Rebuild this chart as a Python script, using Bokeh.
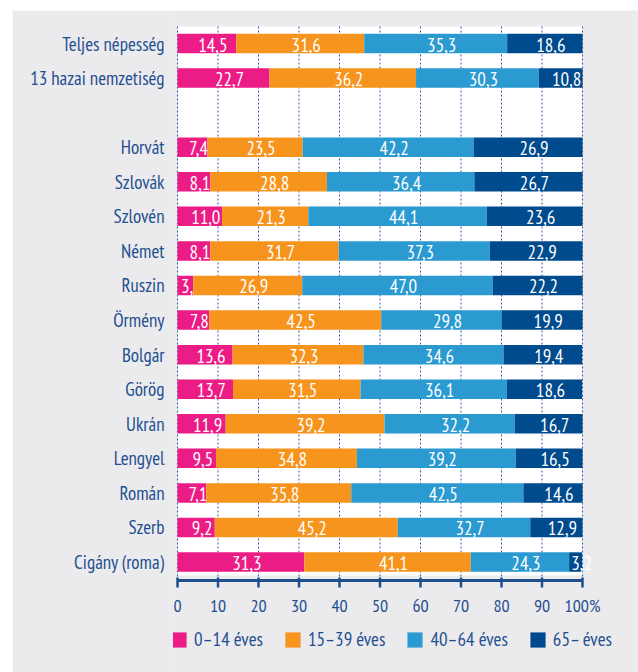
from bokeh.plotting import figure
from bokeh.models import Range1d, FixedTicker, ColumnDataSource, Legend, LegendItem
from bokeh.core.properties import value
from bokeh.embed import file_html
from bokeh.resources import INLINE

# ---------------- data ----------------
summary_rows = ["Teljes népesség", "13 hazai nemzetiség"]
nationalities = ["Horvát", "Szlovák", "Szlovén", "Német", "Ruszin", "Örmény", "Bolgár",
                 "Görög", "Ukrán", "Lengyel", "Román", "Szerb", "Cigány (roma)"]
age_groups = ["0–14 éves", "15–39 éves", "40–64 éves", "65– éves"]

summary_0_14 = [14.5, 22.7]
summary_15_39 = [31.6, 36.2]
summary_40_64 = [35.3, 30.3]
summary_65 = [18.6, 10.8]

nat_0_14 = [7.4, 8.1, 11.0, 8.1, 3.9, 7.8, 13.6, 13.7, 11.9, 9.5, 7.1, 9.2, 31.3]
nat_15_39 = [23.5, 28.8, 21.3, 31.7, 26.9, 42.5, 32.3, 31.5, 39.2, 34.8, 35.8, 45.2, 41.1]
nat_40_64 = [42.2, 36.4, 44.1, 37.3, 47.0, 29.8, 34.6, 36.1, 32.2, 39.2, 42.5, 32.7, 24.3]
nat_65 = [26.9, 26.7, 23.6, 22.9, 22.2, 19.9, 19.4, 18.6, 16.7, 16.5, 14.6, 12.9, 3.2]

x_ticks = [0, 10, 20, 30, 40, 50, 60, 70, 80, 90, 100]
x_tick_labels = ["0", "10", "20", "30", "40", "50", "60", "70", "80", "90", "100%"]

# ---------------- style ----------------
colors = ["#ec1c86", "#f7941d", "#2a9ad0", "#004b8d"]
TEXT = "#1f4f8f"
BG = "#ebebee"
FONT = "'PT Sans Narrow', 'Roboto Condensed', 'Asap Condensed', 'Open Sans Condensed', sans-serif"

# page-pixel geometry helpers (frame spans page x 173..638, y 10..672)
ROW_PX = 34.57           # pixels per row
ROW0_PX = 43.0           # page y of first row centre
X0_PX, X_PER = 177.0, 4.05


def ydat(px):
    return (px - ROW0_PX) / ROW_PX


def xdat(px):
    return (px - X0_PX) / X_PER


# ---------------- rows (one empty slot between the two groups) ----------------
names = summary_rows + nationalities
ys = list(range(len(summary_rows))) + [len(summary_rows) + 1 + i for i in range(len(nationalities))]
series = [summary_0_14 + nat_0_14, summary_15_39 + nat_15_39,
          summary_40_64 + nat_40_64, summary_65 + nat_65]

p = figure(width=626, height=662, output_backend="svg", toolbar_location=None,
           x_range=Range1d(xdat(173), xdat(638)), y_range=Range1d(ydat(672), ydat(10)),
           x_axis_location=None, min_border_left=161, min_border_right=0,
           min_border_top=0, min_border_bottom=0)
p.styles = {"margin-left": "12px", "margin-top": "10px"}
p.background_fill_color = BG
p.border_fill_color = BG
p.outline_line_color = None
p.xgrid.visible = False
p.ygrid.visible = False

panel_top, panel_bottom = ydat(26), ydat(575)
p.quad(left=[x_ticks[0]], right=[x_ticks[-1]], top=[panel_top], bottom=[panel_bottom],
       fill_color="white", line_color=None)
p.segment(x0=x_ticks, x1=x_ticks, y0=[panel_top] * len(x_ticks), y1=[ydat(578)] * len(x_ticks),
          line_color="#2d5e9c", line_width=1, line_dash="2 2")

legend_items = []
left = [0.0] * len(names)
for k, vals in enumerate(series):
    right = [l + v for l, v in zip(left, vals)]
    src = ColumnDataSource(dict(
        y=ys, left=left, right=right, mid=[(l + r) / 2 for l, r in zip(left, right)],
        lab=[f"{v:.1f}".replace(".", ",") for v in vals]))
    r = p.hbar(y="y", left="left", right="right", height=19.5 / ROW_PX, source=src,
               fill_color=colors[k], line_color=None)
    p.text(x="mid", y="y", text="lab", source=src, text_color="white",
           text_font=value(FONT), text_font_size="19px", text_align="center",
           text_baseline="middle", x_offset=6, y_offset=1)
    legend_items.append(LegendItem(label=age_groups[k], renderers=[r]))
    left = right

# x axis drawn from the tick list
axis_y = ydat(580)
p.segment(x0=[x_ticks[0]], x1=[x_ticks[-1]], y0=[axis_y], y1=[axis_y], line_color=TEXT, line_width=3)
p.segment(x0=x_ticks, x1=x_ticks, y0=[ydat(577)] * len(x_ticks), y1=[ydat(587)] * len(x_ticks),
          line_color=TEXT, line_width=2.5)
p.text(x=x_ticks, y=[ydat(605)] * len(x_ticks), text=x_tick_labels, text_color=TEXT,
       text_font=value(FONT), text_font_size="18px", text_align="center", text_baseline="middle")

# category labels on the y axis
p.yaxis.ticker = FixedTicker(ticks=ys)
p.yaxis.major_label_overrides = {y: s for y, s in zip(ys, names)}
p.yaxis.axis_line_color = None
p.yaxis.major_tick_line_color = None
p.yaxis.minor_tick_line_color = None
p.yaxis.major_tick_in = 0
p.yaxis.major_tick_out = 0
p.yaxis.major_label_text_color = TEXT
p.yaxis.major_label_text_font = FONT
p.yaxis.major_label_text_font_size = "19px"
p.yaxis.major_label_standoff = 9

legend = Legend(items=legend_items, orientation="horizontal", location=(-4, 21),
                glyph_width=19, glyph_height=19, label_standoff=6, spacing=20,
                padding=0, margin=0, background_fill_alpha=0, border_line_color=None,
                label_text_font=FONT, label_text_font_size="19px", label_text_color=TEXT)
p.add_layout(legend, "center")

open("out.html", "w").write(file_html(p, INLINE))
